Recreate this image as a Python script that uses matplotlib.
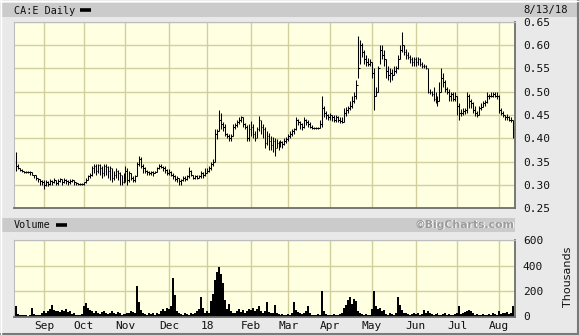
import numpy as np
import pandas as pd
import matplotlib
matplotlib.use("Agg")
import matplotlib.pyplot as plt
from matplotlib.patches import Rectangle
from matplotlib.lines import Line2D

# ---------------- data (high, low, close) per month ----------------
aug17 = [(0.370,0.330,0.340),(0.345,0.333,0.335),(0.337,0.330,0.332),(0.333,0.328,0.330),
         (0.330,0.326,0.328),(0.330,0.326,0.328),(0.330,0.326,0.328),(0.330,0.322,0.328),
         (0.328,0.320,0.322),(0.322,0.315,0.320),(0.320,0.310,0.315),(0.315,0.306,0.312),
         (0.312,0.300,0.308),(0.310,0.300,0.305)]
sep17 = [(0.310,0.290,0.300),(0.310,0.298,0.305),(0.308,0.298,0.302),(0.312,0.300,0.308),
         (0.310,0.300,0.305),(0.315,0.303,0.310),(0.310,0.300,0.303),(0.313,0.300,0.308),
         (0.315,0.305,0.312),(0.312,0.300,0.305),(0.315,0.303,0.310),(0.312,0.302,0.307),
         (0.310,0.300,0.305),(0.312,0.302,0.308),(0.313,0.305,0.310),(0.310,0.300,0.306),
         (0.306,0.300,0.303),(0.304,0.300,0.302),(0.304,0.300,0.302),(0.304,0.300,0.302)]
oct17 = [(0.306,0.300,0.305),(0.315,0.303,0.310),(0.320,0.310,0.318),(0.325,0.315,0.320),
         (0.340,0.318,0.335),(0.345,0.325,0.340),(0.345,0.320,0.330),(0.345,0.325,0.342),
         (0.345,0.320,0.335),(0.340,0.315,0.325),(0.345,0.318,0.340),(0.345,0.320,0.338),
         (0.340,0.315,0.330),(0.340,0.310,0.335),(0.335,0.305,0.315),(0.330,0.310,0.320),
         (0.335,0.315,0.330),(0.332,0.310,0.325),(0.328,0.300,0.320),(0.322,0.300,0.305),
         (0.325,0.303,0.320)]
nov17 = [(0.340,0.305,0.330),(0.335,0.300,0.310),(0.330,0.305,0.325),(0.325,0.310,0.315),
         (0.318,0.305,0.310),(0.320,0.305,0.318),(0.350,0.318,0.345),(0.362,0.340,0.355),
         (0.360,0.335,0.340),(0.345,0.325,0.335),(0.338,0.325,0.330),(0.332,0.322,0.328),
         (0.330,0.322,0.325),(0.330,0.322,0.328),(0.330,0.318,0.325),(0.330,0.325,0.328),
         (0.338,0.328,0.335),(0.345,0.333,0.340),(0.345,0.335,0.338),(0.340,0.330,0.335),
         (0.340,0.325,0.332),(0.333,0.322,0.325)]
dec17 = [(0.333,0.322,0.328),(0.330,0.318,0.322),(0.325,0.312,0.318),(0.320,0.308,0.312),
         (0.318,0.305,0.315),(0.315,0.300,0.308),(0.313,0.300,0.310),(0.318,0.308,0.315),
         (0.318,0.308,0.312),(0.322,0.310,0.318),(0.338,0.315,0.330),(0.332,0.318,0.320),
         (0.322,0.312,0.315),(0.320,0.312,0.318),(0.320,0.312,0.315),(0.320,0.315,0.318),
         (0.330,0.315,0.325),(0.328,0.315,0.320),(0.335,0.318,0.325)]
jan18 = [(0.335,0.325,0.330),(0.340,0.328,0.335),(0.350,0.332,0.345),(0.355,0.340,0.350),
         (0.420,0.350,0.410),(0.420,0.398,0.415),(0.460,0.415,0.440),(0.455,0.420,0.430),
         (0.435,0.415,0.425),(0.430,0.405,0.410),(0.412,0.400,0.405),(0.410,0.395,0.400),
         (0.410,0.395,0.405),(0.430,0.405,0.425),(0.432,0.420,0.428),(0.440,0.425,0.435),
         (0.445,0.430,0.440),(0.448,0.435,0.445),(0.445,0.425,0.430),(0.432,0.420,0.425),
         (0.428,0.395,0.400),(0.430,0.395,0.420)]
feb18 = [(0.438,0.405,0.425),(0.430,0.400,0.410),(0.415,0.395,0.400),(0.425,0.400,0.420),
         (0.448,0.415,0.440),(0.440,0.410,0.425),(0.430,0.400,0.420),(0.425,0.378,0.390),
         (0.415,0.385,0.405),(0.412,0.375,0.395),(0.405,0.375,0.385),(0.402,0.370,0.395),
         (0.400,0.362,0.380),(0.398,0.378,0.390),(0.395,0.375,0.385),(0.396,0.382,0.392),
         (0.395,0.380,0.388),(0.400,0.385,0.395),(0.402,0.390,0.398)]
mar18 = [(0.410,0.395,0.405),(0.415,0.400,0.410),(0.420,0.405,0.415),(0.422,0.410,0.420),
         (0.445,0.418,0.440),(0.442,0.428,0.435),(0.438,0.420,0.430),(0.432,0.418,0.425),
         (0.445,0.422,0.440),(0.442,0.428,0.435),(0.440,0.425,0.430),(0.435,0.422,0.425),
         (0.428,0.420,0.423),(0.425,0.420,0.423),(0.425,0.420,0.423),(0.425,0.420,0.423),
         (0.440,0.422,0.430),(0.490,0.425,0.465),(0.470,0.445,0.455),(0.458,0.442,0.450),
         (0.452,0.440,0.445)]
apr18 = [(0.455,0.440,0.450),(0.450,0.438,0.445),(0.450,0.435,0.440),(0.450,0.435,0.445),
         (0.448,0.435,0.440),(0.445,0.432,0.438),(0.445,0.432,0.435),(0.465,0.435,0.455),
         (0.468,0.448,0.460),(0.470,0.455,0.465),(0.480,0.460,0.470),(0.490,0.465,0.480),
         (0.500,0.475,0.490),(0.525,0.485,0.515),(0.620,0.530,0.550),(0.612,0.560,0.600),
         (0.605,0.575,0.585),(0.590,0.560,0.570),(0.580,0.555,0.565),(0.572,0.555,0.560),
         (0.570,0.555,0.565)]
may18 = [(0.565,0.530,0.540),(0.550,0.460,0.490),(0.510,0.490,0.500),(0.555,0.500,0.550),
         (0.600,0.560,0.590),(0.600,0.570,0.580),(0.590,0.555,0.570),(0.570,0.530,0.545),
         (0.555,0.525,0.535),(0.550,0.522,0.540),(0.548,0.525,0.535),(0.555,0.535,0.545),
         (0.555,0.540,0.550),(0.580,0.548,0.570),(0.600,0.570,0.590),(0.628,0.585,0.600),
         (0.600,0.580,0.585),(0.592,0.570,0.580),(0.585,0.570,0.575),(0.580,0.562,0.570),
         (0.575,0.555,0.565),(0.575,0.555,0.570)]
jun18 = [(0.575,0.555,0.565),(0.575,0.558,0.570),(0.572,0.555,0.560),(0.565,0.552,0.555),
         (0.560,0.550,0.555),(0.558,0.548,0.550),(0.550,0.498,0.500),(0.505,0.495,0.500),
         (0.502,0.490,0.495),(0.510,0.480,0.485),(0.500,0.475,0.480),(0.490,0.470,0.480),
         (0.520,0.480,0.500),(0.550,0.500,0.530),(0.540,0.510,0.520),(0.525,0.500,0.505),
         (0.510,0.495,0.500),(0.505,0.480,0.490),(0.500,0.480,0.495),(0.500,0.480,0.485),
         (0.500,0.480,0.490)]
jul18 = [(0.490,0.450,0.470),(0.475,0.440,0.455),(0.462,0.448,0.455),(0.465,0.450,0.458),
         (0.465,0.452,0.460),(0.500,0.455,0.490),(0.495,0.465,0.480),(0.485,0.465,0.475),
         (0.478,0.455,0.460),(0.470,0.448,0.455),(0.458,0.445,0.450),(0.470,0.450,0.465),
         (0.475,0.460,0.468),(0.480,0.468,0.475),(0.482,0.470,0.478),(0.500,0.475,0.490),
         (0.495,0.485,0.490),(0.500,0.488,0.490),(0.500,0.488,0.495),(0.500,0.488,0.490),
         (0.500,0.485,0.490)]
aug18 = [(0.492,0.455,0.460),(0.465,0.450,0.455),(0.458,0.445,0.450),(0.450,0.440,0.445),
         (0.452,0.440,0.445),(0.448,0.438,0.440),(0.445,0.435,0.440),(0.440,0.400,0.420)]

# ---------------- volume (thousands) per month ----------------
vol_aug17 = [80,20,15,10,10,10,5,10,70,20,15,10,10,25]
vol_sep17 = [40,30,45,60,90,50,40,45,35,50,40,55,35,45,20,25,10,15,10,20]
vol_oct17 = [80,105,70,50,40,30,45,25,20,35,40,30,20,25,45,30,20,35,25,15,20]
vol_nov17 = [20,30,25,40,35,30,240,110,50,30,20,15,25,20,30,15,25,20,40,55,45,70]
vol_dec17 = [60,80,300,170,40,25,20,15,30,20,15,25,20,30,40,60,150,70,30]
vol_jan18 = [40,30,120,180,290,350,390,330,260,130,60,100,40,30,25,40,55,35,50,30,45,60]
vol_feb18 = [50,70,40,60,80,45,30,40,110,35,25,30,90,25,20,15,20,10,15]
vol_mar18 = [20,15,30,110,50,35,25,20,30,40,80,30,15,10,15,20,10,200,40,20,15]
vol_apr18 = [15,10,20,10,15,20,30,70,90,130,150,100,140,120,40,25,20,15,20,10,15]
vol_may18 = [60,200,80,60,70,45,50,20,15,25,20,15,30,150,90,50,30,25,20,15,20,25]
vol_jun18 = [20,25,15,20,50,30,45,25,20,15,20,25,15,10,20,25,15,20,10,15,20]
vol_jul18 = [25,80,20,30,35,45,50,40,30,15,20,10,15,20,10,15,20,15,25,20,15]
vol_aug18 = [40,20,30,25,35,20,30,80]

start_date = "2017-08-14"
end_date = "2018-08-13"
holidays = ["2017-09-04", "2017-10-09", "2017-12-25", "2017-12-26", "2018-01-01",
            "2018-02-19", "2018-03-30", "2018-05-21", "2018-07-02", "2018-08-06"]
price_ticks = [0.25, 0.30, 0.35, 0.40, 0.45, 0.50, 0.55, 0.60, 0.65]
vol_ticks = [0, 200, 400, 600]
month_labels = ["Sep", "Oct", "Nov", "Dec", "18", "Feb", "Mar", "Apr", "May", "Jun", "Jul", "Aug"]
title_text = "CA:E Daily"
date_text = "8/13/18"

# ---------------- assemble ----------------
bars = aug17 + sep17 + oct17 + nov17 + dec17 + jan18 + feb18 + mar18 + apr18 + may18 + jun18 + jul18 + aug18
vols = (vol_aug17 + vol_sep17 + vol_oct17 + vol_nov17 + vol_dec17 + vol_jan18 + vol_feb18 +
        vol_mar18 + vol_apr18 + vol_may18 + vol_jun18 + vol_jul18 + vol_aug18)
dates = pd.bdate_range(start_date, end_date)
dates = dates[~dates.isin(pd.to_datetime(holidays))]
n = min(len(dates), len(bars), len(vols))
dates = dates[:n]
high = np.array([b[0] for b in bars[:n]])
low = np.array([b[1] for b in bars[:n]])
close = np.array([b[2] for b in bars[:n]])
volume = np.array(vols[:n], dtype=float)
idx = np.arange(n)
months = dates.to_period("M")
month_pos = [i for i in range(1, n) if months[i] != months[i - 1]]

# ---------------- figure ----------------
W, H = 579, 335
fig = plt.figure(figsize=(W / 100, H / 100), dpi=100, facecolor="#e9e9e9")
mono = "DejaVu Sans Mono"
BG = "#ffffe1"
GRID = "#d2cf9f"

def fx(x):
    return x / W

def fy(y):
    return (H - y) / H

# header bands
fig.patches.append(Rectangle((fx(2), fy(17)), fx(575), 14 / H, transform=fig.transFigure,
                             facecolor="#cbcbcb", edgecolor="none", zorder=0))
fig.patches.append(Rectangle((fx(2), fy(232)), fx(513), 14 / H, transform=fig.transFigure,
                             facecolor="#cbcbcb", edgecolor="none", zorder=0))
# outer frame
fig.lines.append(Line2D([0, 1], [fy(334), fy(334)], transform=fig.transFigure, color="#7a7a7a", lw=1.5))
fig.lines.append(Line2D([fx(578.3), fx(578.3)], [0, 1], transform=fig.transFigure, color="#7a7a7a", lw=1.5))
fig.lines.append(Line2D([0, 1], [fy(0.5), fy(0.5)], transform=fig.transFigure, color="#ffffff", lw=1))
fig.lines.append(Line2D([fx(0.5), fx(0.5)], [0, 1], transform=fig.transFigure, color="#ffffff", lw=1))

fig.text(fx(14), fy(10.5), title_text, fontsize=7.3, family=mono, va="center", ha="left", color="#111111")
fig.lines.append(Line2D([fx(80), fx(91)], [fy(10), fy(10)], transform=fig.transFigure, color="black", lw=2.6,
                        solid_capstyle="butt"))
fig.text(fx(523), fy(10.5), date_text, fontsize=7.6, family=mono, va="center", ha="left", color="#111111")
fig.text(fx(14), fy(225.5), "Volume", fontsize=7.3, family=mono, va="center", ha="left", color="#111111")
fig.lines.append(Line2D([fx(56), fx(67)], [fy(225), fy(225)], transform=fig.transFigure, color="black", lw=2.6,
                        solid_capstyle="butt"))
fig.text(fx(515.5), fy(224.5), "\u00a9BigCharts.com", fontsize=7.8, fontweight="bold", va="center", ha="right",
         color="#ffffff", family="DejaVu Sans")
fig.text(fx(515), fy(225), "\u00a9BigCharts.com", fontsize=7.8, fontweight="bold", va="center", ha="right",
         color="#9b9b9b", family="DejaVu Sans")
fig.text(fx(568), fy(277), "Thousands", fontsize=8, rotation=90, va="center", ha="center", color="#111111")

x_left = -1.1
x_right = 251.0

# price panel
ax1 = fig.add_axes([fx(14), fy(208), fx(501), 186 / H])
ax1.set_facecolor(BG)
ax1.vlines(idx, low, high, color="black", lw=0.75)
ax1.hlines(close, idx, idx + 0.9, color="black", lw=0.75)
ax1.set_xlim(x_left, x_right)
ax1.set_ylim(price_ticks[0], price_ticks[-1])
ax1.set_yticks(price_ticks)
ax1.set_yticklabels(["%.2f" % t for t in price_ticks])
ax1.set_xticks(month_pos)
ax1.set_xticklabels([])
ax1.yaxis.tick_right()
ax1.tick_params(axis="both", length=0)
ax1.tick_params(axis="y", pad=5.6, labelsize=8, labelcolor="#111111")
for lab in ax1.get_yticklabels():
    lab.set_family(mono)
ax1.grid(True, color=GRID, lw=1.0)
ax1.set_axisbelow(True)

# volume panel
ax2 = fig.add_axes([fx(14), fy(316.5), fx(501), 76.5 / H])
ax2.set_facecolor(BG)
ax2.bar(idx, volume, width=1.0, color="black", linewidth=0)
ax2.set_xlim(x_left, x_right)
ax2.set_ylim(vol_ticks[0], vol_ticks[-1])
ax2.set_yticks(vol_ticks)
ax2.set_yticklabels([str(t) for t in vol_ticks])
ax2.set_xticks(month_pos)
ax2.set_xticklabels(month_labels[:len(month_pos)])
ax2.yaxis.tick_right()
ax2.tick_params(axis="both", length=0)
ax2.tick_params(axis="y", pad=5.6, labelsize=8, labelcolor="#111111")
ax2.tick_params(axis="x", pad=3.5, labelsize=8, labelcolor="#111111")
for lab in ax2.get_yticklabels() + ax2.get_xticklabels():
    lab.set_family(mono)
ax2.grid(True, color=GRID, lw=1.0)
ax2.set_axisbelow(True)

for ax in (ax1, ax2):
    ax.spines["left"].set_color("#bdbdbd")
    ax.spines["top"].set_color("#bdbdbd")
    ax.spines["right"].set_color("#6e6e6e")
    ax.spines["bottom"].set_color("#6e6e6e")
    ax.spines["right"].set_linewidth(1.3)
    ax.spines["bottom"].set_linewidth(1.3)

fig.savefig("out.png", dpi=100, facecolor=fig.get_facecolor())
